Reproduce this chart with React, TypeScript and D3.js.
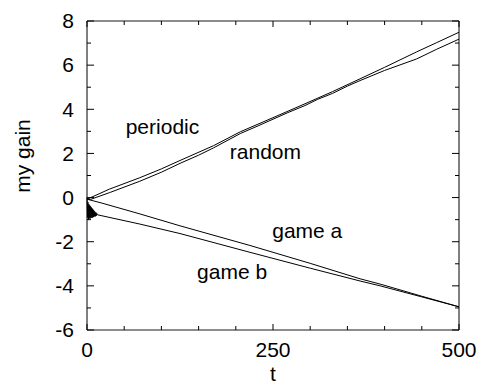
import React from 'react'
import * as d3 from 'd3'

// [t, gain] pairs
const periodic: [number, number][] = [
  [0, -0.08], [5, 0.0], [30, 0.38], [71, 0.9], [100, 1.3], [125, 1.68], [170, 2.35],
  [206, 2.98], [250, 3.62], [293, 4.25], [330, 4.8], [367, 5.38], [400, 5.9],
  [443, 6.6], [470, 7.02], [500, 7.49]
]
const random: [number, number][] = [
  [0, -0.1], [5, -0.08], [30, 0.22], [71, 0.74], [100, 1.15], [125, 1.55], [150, 1.92],
  [170, 2.25], [206, 2.9], [230, 3.25], [250, 3.55], [270, 3.85], [293, 4.17], [310, 4.45],
  [330, 4.72], [350, 5.05], [367, 5.3], [400, 5.76], [443, 6.28], [470, 6.72], [500, 7.18]
]
const gameA: [number, number][] = [
  [0, -0.05], [3, -0.1], [20, -0.25], [71, -0.74], [125, -1.28], [219, -2.17],
  [300, -2.98], [367, -3.68], [394, -3.92], [450, -4.47], [500, -4.95]
]
const gameB: [number, number][] = [
  [0, 0], [0.6, -0.9], [1.2, -0.2], [1.8, -1.0], [2.4, -0.3], [3, -0.95], [3.6, -0.35],
  [4.2, -0.95], [4.8, -0.4], [5.4, -0.9], [6, -0.45], [6.6, -0.92], [7.2, -0.5], [7.8, -0.9],
  [8.4, -0.55], [9, -0.88], [9.6, -0.6], [10.2, -0.85], [10.8, -0.65], [11.4, -0.85],
  [12, -0.68], [12.6, -0.82], [13.2, -0.72], [14, -0.78], [71, -1.2],
  [125, -1.63], [219, -2.48], [300, -3.2], [367, -3.78], [394, -4.0], [450, -4.5], [500, -4.95]
]

const xTicks = [0, 250, 500]
const xMinorTicks = [0, 50, 100, 150, 200, 250, 300, 350, 400, 450, 500]
const yTicks = [-6, -4, -2, 0, 2, 4, 6, 8]
const yMinorTicks = [-5, -3, -1, 1, 3, 5, 7]

const labels = [
  { text: 'periodic', t: 52, v: 2.9 },
  { text: 'random', t: 192, v: 1.75 },
  { text: 'game a', t: 249, v: -1.83 },
  { text: 'game b', t: 148, v: -3.69 }
]

const W = 491
const H = 385
const margin = { top: 21, right: 32, bottom: 55, left: 87 }

export default function App () {
  const x = d3.scaleLinear().domain([0, 500]).range([margin.left, W - margin.right])
  const y = d3.scaleLinear().domain([-6, 8]).range([H - margin.bottom, margin.top])

  const line = d3.line<[number, number]>()
    .x(d => x(d[0]))
    .y(d => y(d[1]))

  const font = 'Liberation Sans, Arial, Helvetica, sans-serif'
  const fs = 21
  const [x0, x1] = x.range()
  const [y0, y1] = y.range()

  return (
    <svg width={W} height={H} style={{ position: 'absolute', left: 0, top: 0 }}
      fontFamily={font}>
      <rect width={W} height={H} fill='#fff' />

      {[periodic, random, gameA, gameB].map((s, i) => (
        <path key={i} d={line(s) || ''} fill='none' stroke='#000' strokeWidth={1} />
      ))}

      {/* frame */}
      <line x1={x0} x2={x1} y1={y1} y2={y1} stroke='#666' strokeWidth={1.5} />
      <line x1={x0} x2={x1} y1={y0} y2={y0} stroke='#666' strokeWidth={1.5} />
      <line x1={x0} x2={x0} y1={y1} y2={y0} stroke='#000' strokeWidth={1} />
      <line x1={x1} x2={x1} y1={y1} y2={y0} stroke='#000' strokeWidth={1} />

      {/* x ticks */}
      {xMinorTicks.map(t => {
        const len = xTicks.includes(t) ? 6 : 4
        return (
          <g key={'xt' + t}>
            <line x1={x(t)} x2={x(t)} y1={y0} y2={y0 - len} stroke='#000' />
            <line x1={x(t)} x2={x(t)} y1={y1} y2={y1 + len} stroke='#000' />
          </g>
        )
      })}
      {xTicks.map(t => (
        <text key={'xl' + t} x={x(t)} y={357} textAnchor='middle' fontSize={fs}>{t}</text>
      ))}

      {/* y ticks */}
      {yTicks.map(v => (
        <g key={'yt' + v}>
          <line x1={x0} x2={x0 + 7} y1={y(v)} y2={y(v)} stroke='#000' />
          <line x1={x1} x2={x1 - 7} y1={y(v)} y2={y(v)} stroke='#000' />
          <text x={74} y={y(v)} dy='0.35em' textAnchor='end' fontSize={fs}>{v}</text>
        </g>
      ))}
      {yMinorTicks.map(v => (
        <g key={'ym' + v}>
          <line x1={x0} x2={x0 + 4} y1={y(v)} y2={y(v)} stroke='#000' />
          <line x1={x1} x2={x1 - 4} y1={y(v)} y2={y(v)} stroke='#000' />
        </g>
      ))}

      {/* axis titles */}
      <text x={x(250)} y={381} textAnchor='middle' fontSize={fs}>t</text>
      <text transform='translate(30,156) rotate(-90)' textAnchor='middle' fontSize={fs}>my gain</text>

      {labels.map(l => (
        <text key={l.text} x={x(l.t)} y={y(l.v)} fontSize={fs}>{l.text}</text>
      ))}
    </svg>
  )
}
